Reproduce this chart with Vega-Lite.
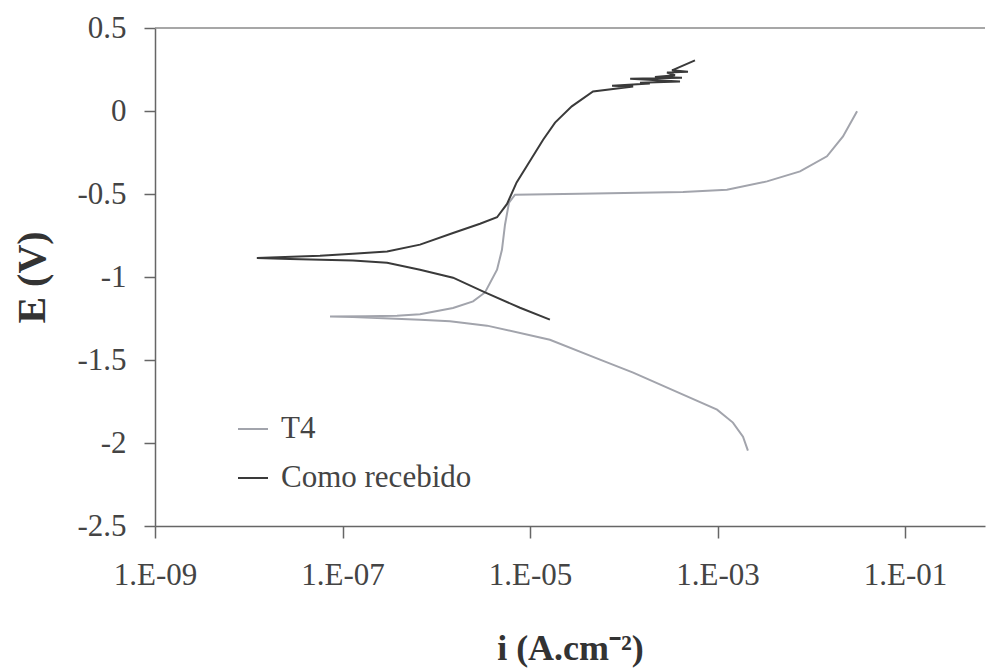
{
  "$schema": "https://vega.github.io/schema/vega-lite/v6.json",
  "width": 830,
  "height": 498,
  "autosize": {"type": "none"},
  "padding": {"left": 155, "top": 28, "right": 1, "bottom": 144},
  "background": "white",
  "config": {
    "view": {"stroke": null},
    "font": "Liberation Serif",
    "axis": {"labelFont": "Liberation Serif", "titleFont": "Liberation Serif"},
    "legend": {"labelFont": "Liberation Serif"}
  },
  "datasets": {
    "curvas": [
      {"amostra": "T4", "i": 2.11e-3, "E": -2.046},
      {"amostra": "T4", "i": 1.87e-3, "E": -1.962},
      {"amostra": "T4", "i": 1.46e-3, "E": -1.877},
      {"amostra": "T4", "i": 9.89e-4, "E": -1.799},
      {"amostra": "T4", "i": 4.29e-4, "E": -1.709},
      {"amostra": "T4", "i": 1.26e-4, "E": -1.576},
      {"amostra": "T4", "i": 5.58e-5, "E": -1.498},
      {"amostra": "T4", "i": 1.63e-5, "E": -1.378},
      {"amostra": "T4", "i": 3.48e-6, "E": -1.293},
      {"amostra": "T4", "i": 1.40e-6, "E": -1.267},
      {"amostra": "T4", "i": 6.71e-7, "E": -1.257},
      {"amostra": "T4", "i": 1.29e-7, "E": -1.241},
      {"amostra": "T4", "i": 7.36e-8, "E": -1.238},
      {"amostra": "T4", "i": 1.74e-7, "E": -1.236},
      {"amostra": "T4", "i": 3.81e-7, "E": -1.233},
      {"amostra": "T4", "i": 6.71e-7, "E": -1.224},
      {"amostra": "T4", "i": 1.51e-6, "E": -1.187},
      {"amostra": "T4", "i": 2.47e-6, "E": -1.147},
      {"amostra": "T4", "i": 3.31e-6, "E": -1.093},
      {"amostra": "T4", "i": 4.45e-6, "E": -0.956},
      {"amostra": "T4", "i": 5.02e-6, "E": -0.836},
      {"amostra": "T4", "i": 5.41e-6, "E": -0.685},
      {"amostra": "T4", "i": 5.97e-6, "E": -0.552},
      {"amostra": "T4", "i": 6.92e-6, "E": -0.504},
      {"amostra": "T4", "i": 3.41e-5, "E": -0.498},
      {"amostra": "T4", "i": 4.29e-4, "E": -0.488},
      {"amostra": "T4", "i": 1.26e-3, "E": -0.474},
      {"amostra": "T4", "i": 3.37e-3, "E": -0.424},
      {"amostra": "T4", "i": 7.59e-3, "E": -0.364},
      {"amostra": "T4", "i": 1.47e-2, "E": -0.273},
      {"amostra": "T4", "i": 2.18e-2, "E": -0.153},
      {"amostra": "T4", "i": 3.08e-2, "E": -0.002},
      {"amostra": "Como recebido", "i": 1.63e-5, "E": -1.257},
      {"amostra": "Como recebido", "i": 7.82e-6, "E": -1.185},
      {"amostra": "Como recebido", "i": 3.31e-6, "E": -1.093},
      {"amostra": "Como recebido", "i": 1.51e-6, "E": -1.004},
      {"amostra": "Como recebido", "i": 6.71e-7, "E": -0.956},
      {"amostra": "Como recebido", "i": 2.99e-7, "E": -0.914},
      {"amostra": "Como recebido", "i": 1.29e-7, "E": -0.900},
      {"amostra": "Como recebido", "i": 2.75e-8, "E": -0.892},
      {"amostra": "Como recebido", "i": 1.22e-8, "E": -0.886},
      {"amostra": "Como recebido", "i": 5.75e-8, "E": -0.872},
      {"amostra": "Como recebido", "i": 1.29e-7, "E": -0.860},
      {"amostra": "Como recebido", "i": 2.99e-7, "E": -0.846},
      {"amostra": "Como recebido", "i": 6.71e-7, "E": -0.805},
      {"amostra": "Como recebido", "i": 1.51e-6, "E": -0.735},
      {"amostra": "Como recebido", "i": 2.93e-6, "E": -0.679},
      {"amostra": "Como recebido", "i": 4.45e-6, "E": -0.640},
      {"amostra": "Como recebido", "i": 5.69e-6, "E": -0.560},
      {"amostra": "Como recebido", "i": 7.2e-6, "E": -0.430},
      {"amostra": "Como recebido", "i": 9.29e-6, "E": -0.330},
      {"amostra": "Como recebido", "i": 1.38e-5, "E": -0.173},
      {"amostra": "Como recebido", "i": 1.85e-5, "E": -0.070},
      {"amostra": "Como recebido", "i": 2.79e-5, "E": 0.028},
      {"amostra": "Como recebido", "i": 4.70e-5, "E": 0.118},
      {"amostra": "Como recebido", "i": 1.26e-4, "E": 0.148},
      {"amostra": "Como recebido", "i": 7.5e-5, "E": 0.152},
      {"amostra": "Como recebido", "i": 1.9e-4, "E": 0.165},
      {"amostra": "Como recebido", "i": 1.49e-4, "E": 0.170},
      {"amostra": "Como recebido", "i": 3.98e-4, "E": 0.178},
      {"amostra": "Como recebido", "i": 1.17e-4, "E": 0.195},
      {"amostra": "Como recebido", "i": 4.18e-4, "E": 0.200},
      {"amostra": "Como recebido", "i": 2.15e-4, "E": 0.205},
      {"amostra": "Como recebido", "i": 3.52e-4, "E": 0.215},
      {"amostra": "Como recebido", "i": 2.89e-4, "E": 0.232},
      {"amostra": "Como recebido", "i": 4.84e-4, "E": 0.236},
      {"amostra": "Como recebido", "i": 3.27e-4, "E": 0.245},
      {"amostra": "Como recebido", "i": 5.75e-4, "E": 0.305}
    ]
  },
  "layer": [
    {
      "data": {"name": "curvas"},
      "mark": {"type": "line", "strokeWidth": 2, "clip": true},
      "encoding": {
        "x": {
          "field": "i",
          "type": "quantitative",
          "scale": {"type": "log", "domain": [1e-9, 0.713], "nice": false},
          "axis": {
            "values": [1e-9, 1e-7, 1e-5, 1e-3, 1e-1],
            "labelExpr": "'1.E-0' + round(-log(datum.value)/LN10)",
            "grid": false,
            "domainColor": "#666666",
            "domainWidth": 1.5,
            "tickColor": "#666666",
            "tickWidth": 1.5,
            "tickSize": 12,
            "labelFont": "Liberation Serif",
            "labelFontSize": 31,
            "labelColor": "#444444",
            "labelPadding": 22,
            "labelFlush": false,
            "title": "i (A.cm⁻²)",
            "titleFont": "Liberation Serif",
            "titleFontSize": 36,
            "titleFontWeight": "bold",
            "titleColor": "#333333",
            "titleBaseline": "alphabetic",
            "titleY": 133
          }
        },
        "y": {
          "field": "E",
          "type": "quantitative",
          "scale": {"domain": [-2.5, 0.5], "nice": false, "zero": false},
          "axis": {
            "values": [-2.5, -2, -1.5, -1, -0.5, 0, 0.5],
            "labelExpr": "(datum.value < 0 ? '-' : '') + format(abs(datum.value), '')",
            "grid": false,
            "domainColor": "#666666",
            "domainWidth": 1.5,
            "tickColor": "#666666",
            "tickWidth": 1.5,
            "tickSize": 11,
            "labelFont": "Liberation Serif",
            "labelFontSize": 31,
            "labelColor": "#444444",
            "labelPadding": 18,
            "labelFlush": false,
            "title": "E (V)",
            "titleFont": "Liberation Serif",
            "titleFontSize": 40,
            "titleFontWeight": "bold",
            "titleColor": "#333333",
            "titleBaseline": "middle",
            "titleX": -123,
            "titleY": 249
          }
        },
        "color": {
          "field": "amostra",
          "type": "nominal",
          "scale": {"domain": ["T4", "Como recebido"], "range": ["#a2a4ac", "#3a3a3a"]},
          "legend": {
            "orient": "none",
            "legendX": 82,
            "legendY": 385,
            "title": null,
            "symbolType": "stroke",
            "symbolSize": 900,
            "symbolStrokeWidth": 2,
            "labelFont": "Liberation Serif",
            "labelFontSize": 31,
            "labelColor": "#444444",
            "labelOffset": 12,
            "labelLimit": 500,
            "rowPadding": 18,
            "padding": 0
          }
        },
        "order": {"field": "E", "type": "quantitative"}
      }
    },
    {
      "data": {"values": [{}]},
      "mark": {"type": "rule", "color": "#8a8a8a", "strokeWidth": 1.5},
      "encoding": {"y": {"datum": 0.5}}
    }
  ]
}
